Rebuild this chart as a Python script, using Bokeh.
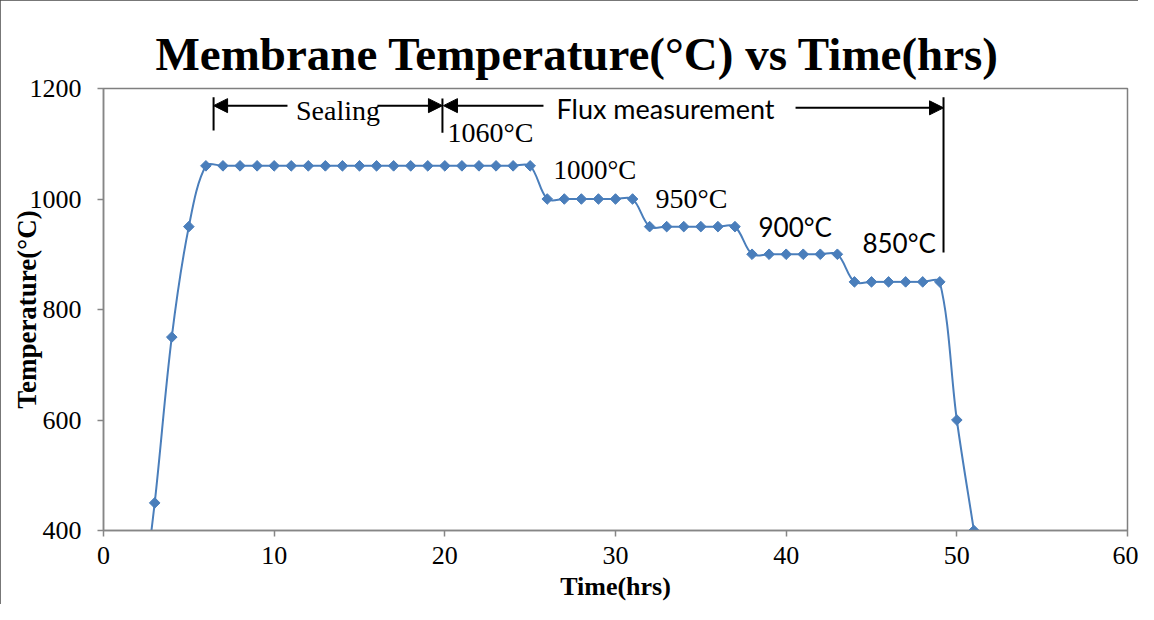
import numpy as np
from bokeh.plotting import figure
from bokeh.models import Range1d, FixedTicker, Label, Arrow, NormalHead, ColumnDataSource
from bokeh.embed import file_html
from bokeh.resources import INLINE

# ---------------- data ----------------
time_hrs = [2, 3, 4, 5,
            6, 7, 8, 9, 10, 11, 12, 13, 14, 15, 16, 17, 18, 19, 20, 21, 22, 23, 24, 25,
            26, 27, 28, 29, 30, 31,
            32, 33, 34, 35, 36, 37,
            38, 39, 40, 41, 42, 43,
            44, 45, 46, 47, 48, 49,
            50, 51]
temp_c = [200, 450, 750, 950,
          1060, 1060, 1060, 1060, 1060, 1060, 1060, 1060, 1060, 1060, 1060, 1060, 1060, 1060, 1060, 1060, 1060, 1060, 1060, 1060,
          1000, 1000, 1000, 1000, 1000, 1000,
          950, 950, 950, 950, 950, 950,
          900, 900, 900, 900, 900, 900,
          850, 850, 850, 850, 850, 850,
          600, 400]
x_ticks = [0, 10, 20, 30, 40, 50, 60]
y_ticks = [400, 600, 800, 1000, 1200]

title_text = "Membrane Temperature(°C) vs Time(hrs)"
x_title = "Time(hrs)"
y_title = "Temperature(°C)"

serif = "Liberation Serif"

# ---------------- figure ----------------
W, H = 1138, 604
FL, FR, FT, FB = 103, 1127, 88, 530   # frame edges (px)
p = figure(width=W, height=H, output_backend="svg", toolbar_location=None,
           x_range=Range1d(0, 60), y_range=Range1d(400, 1200),
           min_border_left=FL, min_border_right=W - FR, min_border_top=FT, min_border_bottom=H - FB)
p.styles = {"outline": "2px solid #4a4a4a", "outline-offset": "-2px"}
p.grid.visible = False
p.background_fill_color = "white"
p.border_fill_color = "white"
p.outline_line_color = "#7f7f7f"
p.outline_line_width = 1.5

p.title.text = title_text
p.title.text_font = serif
p.title.text_font_size = "47px"
p.title.text_font_style = "bold"
p.title.text_color = "black"
p.title.align = "left"
p.title.offset = 52
p.title.standoff = 17

for ax in (p.xaxis[0], p.yaxis[0]):
    ax.axis_line_color = "#868686"
    ax.axis_line_width = 1.5
    ax.major_tick_line_color = "#868686"
    ax.major_tick_line_width = 1.5
    ax.major_tick_out = 6
    ax.major_tick_in = 0
    ax.minor_tick_line_color = None
    ax.major_label_text_font = serif
    ax.major_label_text_font_size = "26px"
    ax.major_label_text_color = "black"
    ax.axis_label_text_font = serif
    ax.axis_label_text_font_style = "bold"
    ax.axis_label_text_color = "black"

p.xaxis.axis_label_text_font_size = "26px"
p.yaxis.axis_label_text_font_size = "27px"
p.xaxis.ticker = FixedTicker(ticks=x_ticks)
p.yaxis.ticker = FixedTicker(ticks=y_ticks)
p.xaxis.major_label_standoff = 10
p.yaxis.major_label_standoff = 16
p.xaxis.axis_label = x_title
p.yaxis.axis_label = y_title
p.xaxis.axis_label_standoff = 5
p.yaxis.axis_label_standoff = -15

# ---------------- smoothed line (Bezier, control points from data) ----------------
xs = np.array(time_hrs, dtype=float)
ys = np.array(temp_c, dtype=float)
n = len(xs)
sxf = (FR - FL) / 60.0
syf = (FB - FT) / 800.0


def sdist(i, j):
    return np.hypot((xs[j] - xs[i]) * sxf, (ys[j] - ys[i]) * syf)


def tangent(i):
    a = max(i - 1, 0)
    b = min(i + 1, n - 1)
    return xs[b] - xs[a], ys[b] - ys[a]


x0, y0, x1, y1, cx0, cy0, cx1, cy1 = [], [], [], [], [], [], [], []
for i in range(n - 1):
    d = sdist(i, i + 1)
    dp = sdist(i - 1, i) if i > 0 else 0.0
    dn = sdist(i + 1, i + 2) if i + 2 < n else 0.0
    tx0, ty0 = tangent(i)
    tx1, ty1 = tangent(i + 1)
    f0 = d / (dp + d) / 3.0 if i > 0 else 1.0 / 3.0
    f1 = d / (d + dn) / 3.0 if i + 2 < n else 1.0 / 3.0
    if i == 0:
        tx0, ty0 = xs[1] - xs[0], ys[1] - ys[0]
    if i + 2 >= n:
        tx1, ty1 = xs[n - 1] - xs[n - 2], ys[n - 1] - ys[n - 2]
    x0.append(xs[i]); y0.append(ys[i])
    x1.append(xs[i + 1]); y1.append(ys[i + 1])
    cx0.append(xs[i] + tx0 * f0); cy0.append(ys[i] + ty0 * f0)
    cx1.append(xs[i + 1] - tx1 * f1); cy1.append(ys[i + 1] - ty1 * f1)

bez = ColumnDataSource(dict(x0=x0, y0=y0, x1=x1, y1=y1, cx0=cx0, cy0=cy0, cx1=cx1, cy1=cy1))
blue = "#4A7EBB"
p.bezier(x0="x0", y0="y0", x1="x1", y1="y1", cx0="cx0", cy0="cy0", cx1="cx1", cy1="cy1",
         source=bez, line_color=blue, line_width=2)
p.scatter(x=time_hrs, y=temp_c, marker="square", angle=np.pi / 4, size=7.5,
          fill_color=blue, line_color=blue)

# ---------------- annotations ----------------
vlines = [(6.45, 1184, 1124), (19.86, 1182, 1120), (49.22, 1184, 903)]
for vx, ya, yb in vlines:
    p.segment(x0=[vx], y0=[ya], x1=[vx], y1=[yb], line_color="black", line_width=2)

arrows = [(10.78, 6.45, 1169), (16.05, 19.86, 1169), (25.78, 19.92, 1169), (40.55, 49.22, 1165)]
for xa, xb, ya in arrows:
    p.add_layout(Arrow(end=NormalHead(size=14, fill_color="black", line_color="black"),
                       x_start=xa, y_start=ya, x_end=xb, y_end=ya,
                       line_color="black", line_width=2))

p.add_layout(Label(x=13.74, y=1160, text="Sealing", text_font=serif, text_font_size="28px",
                   text_align="center", text_baseline="middle", text_color="black"))
p.add_layout(Label(x=32.93, y=1164, text="Flux measurement", text_font="Lato", text_font_size="27px",
                   text_align="center", text_baseline="middle", text_color="black"))

step_labels = [("1060°C", 20.16, 1120, serif, "28px"),
               ("1000°C", 26.37, 1052, serif, "27px"),
               ("950°C", 32.34, 1001, serif, "28px"),
               ("900°C", 38.38, 950, "Lato", "26px"),
               ("850°C", 44.47, 921, "Lato", "26px")]
for t, lx, ly, f, fs in step_labels:
    p.add_layout(Label(x=lx, y=ly, text=t, text_font=f, text_font_size=fs,
                       text_align="left", text_baseline="middle", text_color="black"))

open("out.html", "w").write(file_html(p, INLINE))
